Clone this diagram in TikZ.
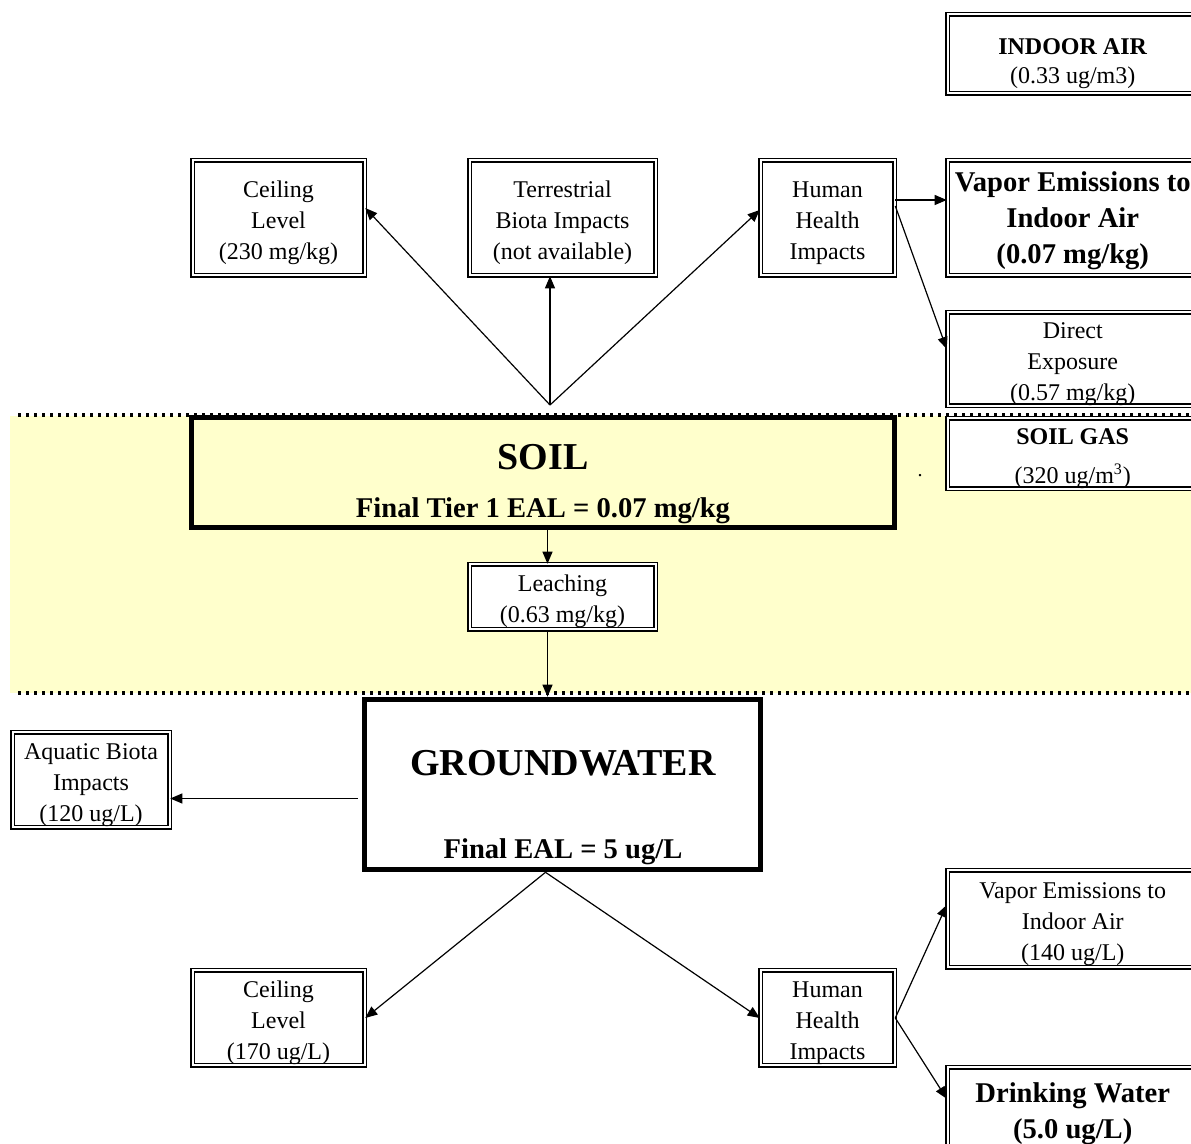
\documentclass[tikz,border=0pt]{standalone}
\usepackage{fontspec}
\setmainfont{Liberation Serif}
\usepackage{tikz}
\usetikzlibrary{positioning,arrows.meta,calc}
\definecolor{soilband}{HTML}{FFFFCC}
\newcommand\boxstrut{\rule{0pt}{13pt}}
\tikzset{
  % --- nodes
  box/.style   = {draw, double, line width=0.8pt, double distance=1pt, fill=white,
                  inner sep=0pt, align=center, font=\fontsize{12}{15.5}\selectfont},
  hbox/.style  = {box, font=\fontsize{14.3}{18}\selectfont\bfseries},
  sidebox/.style = {box, minimum width=125.25pt},
  main/.style  = {draw, line width=2.8pt, inner sep=0pt},
  title/.style = {font=\fontsize{19}{23}\selectfont\bfseries},
  sub/.style   = {font=\fontsize{14.3}{17}\selectfont\bfseries},
  % --- edges
  arr/.style   = {-{Triangle[length=6pt,width=5pt]}, line width=0.6pt},
  sep/.style   = {line width=1.6pt, dash pattern=on 1.6pt off 2.4pt},
}
\begin{document}
\begin{tikzpicture}[x=0.5pt,y=-0.5pt]
  \useasboundingbox (0,0) rectangle (1191,1144);
  \clip (0,0) rectangle (1191,1144);

  % soil zone
  \fill[soilband] (10,416) rectangle (1191,693);
  \draw[sep] (18,415) -- (1191,415);
  \draw[sep] (18,693) -- (1191,693);

  % soil side
  \node[main, fill=soilband, minimum width=351.5pt, minimum height=55pt] (soil) at (543,472.5) {};
  \node[title] (soiltxt) at (543,457) {SOIL};
  \node[sub] (soileal) at (543,511) {Final Tier 1 EAL = 0.07 mg/kg};

  \node[sidebox, minimum height=39.5pt] (indoor) at (1072.75,54)
    {\rule{0pt}{17.5pt}\textbf{INDOOR AIR}\\[-1pt](0.33 ug/m3)};
  \node[box, minimum width=86pt, minimum height=57.5pt] (ceilT) at (278.5,218)
    {\boxstrut Ceiling\\Level\\(230 mg/kg)};
  \node[box, minimum width=93pt, minimum height=57.5pt] (terr) at (562.5,218)
    {\boxstrut Terrestrial\\Biota Impacts\\(not available)};
  \node[box, minimum width=67pt, minimum height=57.5pt] (hhT) at (827.5,218)
    {\boxstrut Human\\Health\\Impacts};
  \node[hbox, minimum width=125.25pt, minimum height=57.5pt] (vapT) at (1072.75,218)
    {\boxstrut Vapor Emissions to\\Indoor Air\\(0.07 mg/kg)};
  \node[sidebox, minimum height=46.5pt] (direct) at (1072.75,359)
    {\boxstrut Direct\\Exposure\\(0.57 mg/kg)};
  \node[sidebox, minimum height=34pt] (soilgas) at (1072.75,453.5)
    {\boxstrut\textbf{SOIL GAS}\\[4pt](320 ug/m\textsuperscript{3})};
  \node (dot) at (920,476) {.};
  \node[box, minimum width=93pt, minimum height=32.5pt] (leach) at (562.5,597)
    {\boxstrut Leaching\\(0.63 mg/kg)};

  % groundwater side
  \node[main, fill=white, minimum width=198pt, minimum height=85pt] (gw) at (562.5,784.5) {};
  \node[title] (gwtxt) at (563,763) {GROUNDWATER};
  \node[sub] (gweal) at (563,852) {Final EAL = 5 ug/L};

  \node[box, minimum width=78.5pt, minimum height=47.5pt] (aqua) at (91,780)
    {\boxstrut Aquatic Biota\\Impacts\\(120 ug/L)};
  \node[box, minimum width=86pt, minimum height=47.5pt] (ceilB) at (278.5,1018)
    {\boxstrut Ceiling\\Level\\(170 ug/L)};
  \node[box, minimum width=67pt, minimum height=47.5pt] (hhB) at (827.5,1018)
    {\boxstrut Human\\Health\\Impacts};
  \node[sidebox, minimum height=48.5pt] (vapB) at (1072.75,919)
    {\boxstrut Vapor Emissions to\\Indoor Air\\(140 ug/L)};
  \node[hbox, minimum width=125.25pt, minimum height=46.25pt] (drink) at (1072.75,1113.75)
    {Drinking Water\\(5.0 ug/L)};

  % connectors
  \coordinate (apex) at (550,405);
  \draw[arr] (apex) -- ([yshift=5pt]ceilT.east);
  \draw[arr] (apex) -- (apex |- terr.south);
  \draw[arr] (apex) -- ([yshift=4pt]hhT.west);
  \draw[arr] ([yshift=9pt]hhT.east) -- ([yshift=9pt]vapT.west);
  \draw[arr] ([yshift=6pt]hhT.east) -- ([yshift=5pt]direct.west);
  \draw[arr] ([xshift=-7.5pt]leach.north |- soil.south) -- ([xshift=-7.5pt]leach.north);
  \draw[arr] ([xshift=-7.5pt]leach.south) -- ([xshift=-7.5pt]gw.north);
  \draw[arr] ([yshift=-7pt,xshift=-2pt]gw.west) -- ([yshift=-7pt]gw.west -| aqua.east);
  \draw[arr] ([xshift=-8.5pt]gw.south) -- (ceilB.east);
  \draw[arr] ([xshift=-8.5pt]gw.south) -- (hhB.west);
  \draw[arr] (hhB.east) -- ([yshift=7pt]vapB.west);
  \draw[arr] (hhB.east) -- ([yshift=7.5pt]drink.west);
\end{tikzpicture}
\end{document}
